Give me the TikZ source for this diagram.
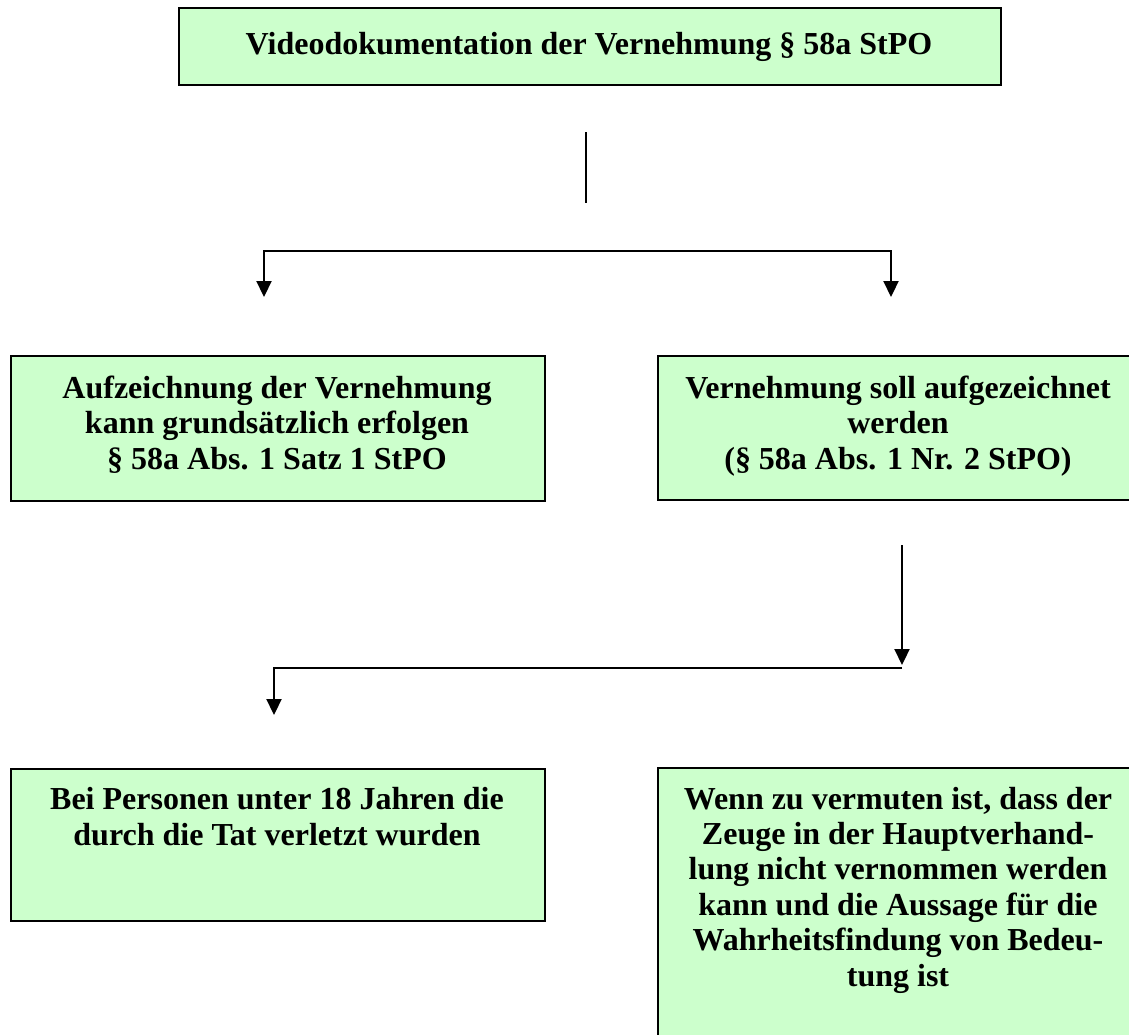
\documentclass[tikz,border=0pt]{standalone}
\usepackage{fontspec}
\setmainfont{Liberation Serif}
\usetikzlibrary{arrows.meta}
\definecolor{boxgreen}{HTML}{CCFFCC}
\begin{document}
\begin{tikzpicture}[x=1pt,y=-1pt,
  box/.style={draw=black,line width=2pt,fill=boxgreen,rectangle,inner sep=0pt,anchor=north west},
  lbl/.style={align=center,inner sep=0pt,anchor=base,font=\fontsize{32}{35.4}\selectfont\bfseries},
  conn/.style={line width=2.2pt},
  tipend/.style={-{Triangle[width=15pt,length=16pt]}},
  tipboth/.style={{Triangle[width=15pt,length=16pt]}-{Triangle[width=15pt,length=16pt]}}]
\useasboundingbox (0,0) rectangle (1129,1034);
\clip (0,0) rectangle (1129,1034);
% boxes
\node[box,minimum width=822pt,minimum height=77pt] (top) at (178,7) {};
\node[box,minimum width=534pt,minimum height=145pt] (l1) at (10,355) {};
\node[box,minimum width=482pt,minimum height=144pt] (r1) at (657,355) {};
\node[box,minimum width=534pt,minimum height=152pt] (l2) at (10,768) {};
\node[box,minimum width=482pt,minimum height=290pt] (r2) at (657,767) {};
% texts (anchor = baseline of the last line)
\node[lbl] (topT) at (589,54) {Videodokumentation der Vernehmung § 58a StPO};
\node[lbl] (l1T) at (277,469) {Aufzeichnung der Vernehmung\\kann grundsätzlich erfolgen\\§ 58a Abs. 1 Satz 1 StPO};
\node[lbl] (r1T) at (898,469) {Vernehmung soll aufgezeichnet\\werden\\(§ 58a Abs. 1 Nr. 2 StPO)};
\node[lbl] (l2T) at (277,845) {Bei Personen unter 18 Jahren die\\durch die Tat verletzt wurden};
\node[lbl] (r2T) at (898,986) {Wenn zu vermuten ist, dass der\\Zeuge in der Hauptverhand-\\lung nicht vernommen werden\\kann und die Aussage für die\\Wahrheitsfindung von Bedeu-\\tung ist};
% connectors
\coordinate (v1) at (586,132);
\coordinate (v2) at (586,203);
\coordinate (aL) at (264,297);
\coordinate (bL) at (264,251);
\coordinate (bR) at (891,251);
\coordinate (aR) at (891,297);
\coordinate (s1) at (902,545);
\coordinate (s2) at (902,665);
\coordinate (h1) at (902,668);
\coordinate (h2) at (274,668);
\coordinate (h3) at (274,715);
\draw[conn] (v1) -- (v2);
\draw[conn,tipboth] (aL) -- (bL) -- (bR) -- (aR);
\draw[conn,tipend] (s1) -- (s2);
\draw[conn,tipend] (h1) -- (h2) -- (h3);
\end{tikzpicture}
\end{document}
